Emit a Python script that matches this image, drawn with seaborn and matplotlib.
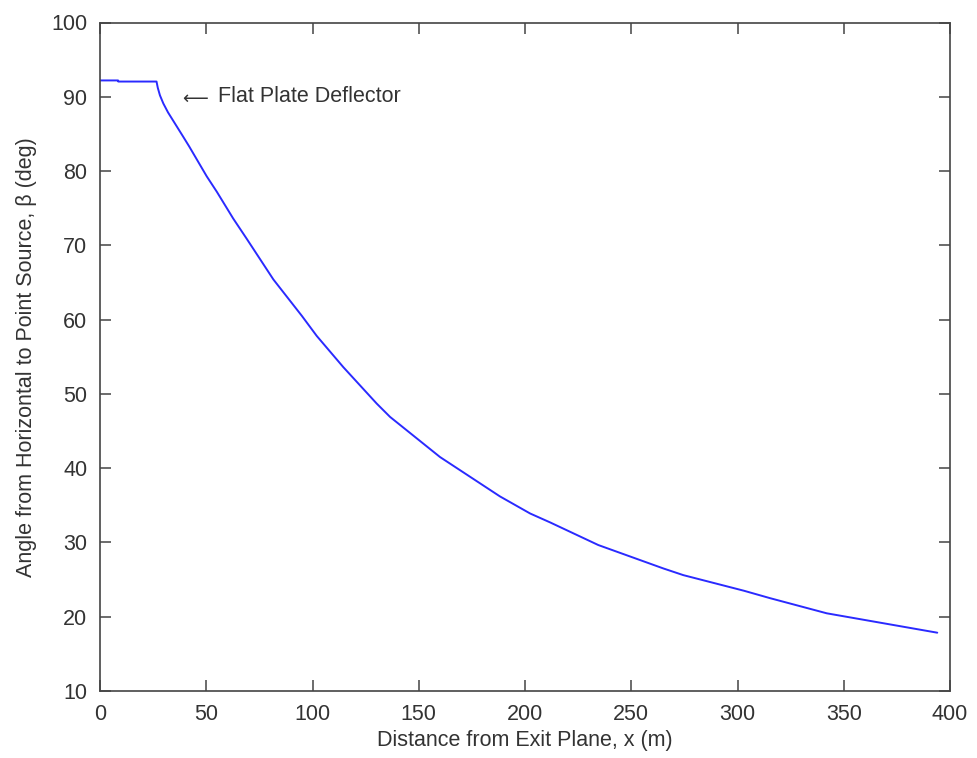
import matplotlib
matplotlib.use("Agg")
import matplotlib.pyplot as plt
import seaborn as sns
import pandas as pd

# Data
distance_m = [0, 8.5, 8.6, 26.6, 27.2, 28.2, 29.8, 32.0, 39.2, 42.0, 50.2, 55.0,
              62.7, 69.0, 81.6, 95.0, 102.0, 114.5, 130.2, 136.5, 160.0,
              188.2, 202.4, 211.8, 234.5, 265.1, 274.5, 303.0, 315.3,
              342.0, 394.0]
angle_deg = [92.2, 92.2, 92.05, 92.05, 91.2, 90.2, 89.1, 87.9, 84.6, 83.3, 79.3, 77.2,
             73.6, 70.9, 65.4, 60.5, 57.8, 53.6, 48.7, 46.9, 41.5,
             36.2, 33.9, 32.7, 29.65, 26.5, 25.6, 23.5, 22.5,
             20.46, 17.85]
x_ticks = [0, 50, 100, 150, 200, 250, 300, 350, 400]
y_ticks = [10, 20, 30, 40, 50, 60, 70, 80, 90, 100]
arrow_text = "\u27f5"
annotation_text = "Flat Plate Deflector"
x_label = "Distance from Exit Plane, x (m)"
y_label = "Angle from Horizontal to Point Source, \u03b2 (deg)"

sns.set_theme(style="ticks")
plt.rcParams["font.family"] = ["Liberation Sans", "DejaVu Sans"]

df = pd.DataFrame({"x": distance_m, "y": angle_deg})

fig = plt.figure(figsize=(9.77, 7.58), dpi=100)
ax = fig.add_axes([100/977, 1 - 691/758, 850/977, (691 - 22.5)/758])

sns.lineplot(data=df, x="x", y="y", sort=False, estimator=None,
             color="#2a2aff", linewidth=1.4, ax=ax)

ax.set_xlim(0, 400)
ax.set_ylim(10, 100)
ax.set_xticks(x_ticks)
ax.set_yticks(y_ticks)

text_color = "#333333"
for s in ax.spines.values():
    s.set_visible(True)
    s.set_color("#444444")
    s.set_linewidth(1.2)

ax.tick_params(direction="in", length=8, width=1.1, color="#444444",
               top=True, right=True, labelsize=15.5, labelcolor=text_color,
               pad=9)

ax.set_xlabel(x_label, fontsize=15.5, color=text_color, labelpad=4)
ax.set_ylabel(y_label, fontsize=15.5, color=text_color, labelpad=10)

ax.text(38.8, 89.7, arrow_text, fontsize=13, color=text_color,
        family="DejaVu Sans", ha="left", va="center")
ax.text(55.3, 90.0, annotation_text, fontsize=15.5, color=text_color,
        ha="left", va="center")

fig.savefig("out.png", dpi=100)
